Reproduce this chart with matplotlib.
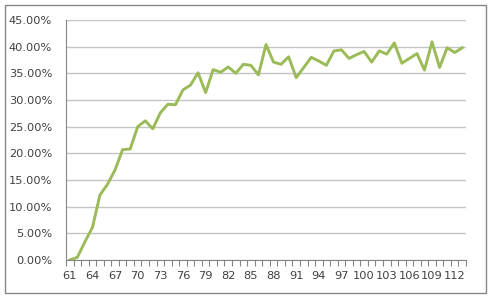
import numpy as np
import matplotlib.pyplot as plt
from matplotlib.patches import Rectangle
from matplotlib.ticker import FixedLocator, PercentFormatter

# categories 61..113 and share values (%)
categories = list(range(61, 114))
values = [0.0, 0.5, 3.4, 6.1, 12.2, 14.2, 16.9, 20.7, 20.8, 25.0,
          26.1, 24.6, 27.6, 29.2, 29.1, 31.9, 32.8, 35.1, 31.4, 35.7,
          35.2, 36.2, 35.0, 36.7, 36.5, 34.7, 40.4, 37.1, 36.7, 38.1,
          34.2, 36.1, 38.0, 37.3, 36.5, 39.2, 39.4, 37.8, 38.5, 39.1,
          37.1, 39.2, 38.6, 40.7, 36.9, 37.8, 38.7, 35.6, 40.9, 36.1,
          39.8, 38.9, 39.8]
label_cats = categories[::3]

GREEN = "#9BBB59"
GRID = "#C4C4C4"
AXIS = "#868686"
TXT = "#404040"

W, H = 493, 301
fig = plt.figure(figsize=(W / 100, H / 100), dpi=100)
fig.patch.set_facecolor("white")
fig.patches.append(Rectangle((5 / W, 8 / H), 481 / W, 288 / H, transform=fig.transFigure,
                             fill=False, edgecolor=AXIS, lw=1))

ax = fig.add_axes([66 / W, 41 / H, 400 / W, 240 / H])
ax.plot(categories, values, color=GREEN, lw=2.1, zorder=3)

ax.set_xlim(categories[0] - 0.5, categories[-1] + 0.5)
ax.set_ylim(0, 45)
ax.set_yticks(np.arange(0, 46, 5))
ax.yaxis.set_major_formatter(PercentFormatter(decimals=2))
ax.grid(axis="y", color=GRID, lw=1)
ax.set_axisbelow(True)

ax.set_xticks(label_cats)
ax.set_xticklabels([str(c) for c in label_cats])
ax.xaxis.set_minor_locator(FixedLocator(np.arange(categories[0] - 0.5, categories[-1] + 1, 1)))
ax.tick_params(axis="x", which="major", length=0, pad=8, labelsize=8.2, labelcolor=TXT)
ax.tick_params(axis="x", which="minor", length=4, color=AXIS, width=0.8)
ax.tick_params(axis="y", length=0, pad=10, labelsize=8.2, labelcolor=TXT)

for s in ["top", "right"]:
    ax.spines[s].set_visible(False)
for s in ["left", "bottom"]:
    ax.spines[s].set_color(AXIS)
    ax.spines[s].set_linewidth(0.8)

fig.savefig("out.png", dpi=100)
